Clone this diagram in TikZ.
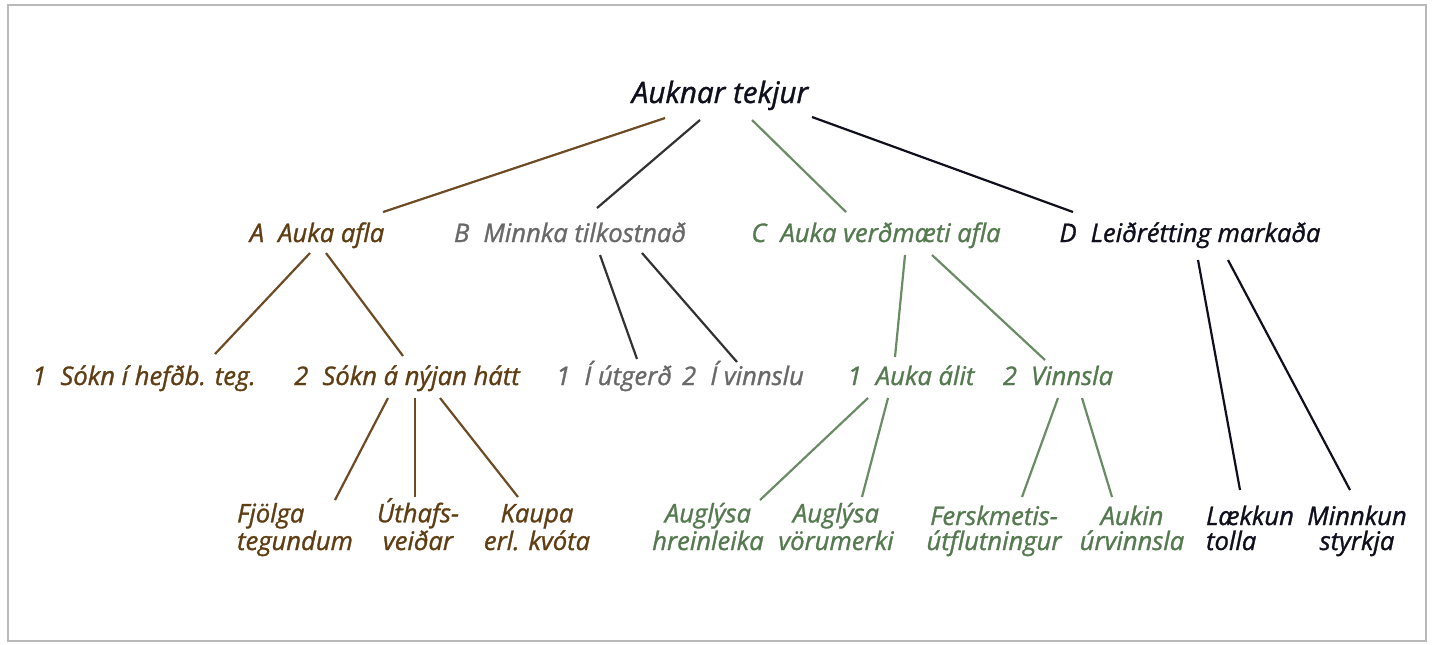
\documentclass[tikz,border=0pt]{standalone}
\usepackage{fontspec}
\setmainfont{Open Sans}[ItalicFeatures={FakeBold=1.2}]
\usepackage{xcolor}
\usepackage{tikz}

\definecolor{brn}{RGB}{96,62,20}
\definecolor{brnline}{RGB}{110,75,35}
\definecolor{gry}{RGB}{105,105,105}
\definecolor{gryline}{RGB}{50,50,50}
\definecolor{grn}{RGB}{85,122,80}
\definecolor{grnline}{RGB}{105,140,100}
\definecolor{navy}{RGB}{15,15,30}
\newcommand{\gap}{\hspace{.55em}}

\begin{document}
\begin{tikzpicture}[x=0.5pt, y=-0.5pt,
        lbl/.style={anchor=base, inner sep=0pt, font=\fontsize{12.8}{12.5}\selectfont\itshape},
        toplbl/.style={lbl, font=\fontsize{14.8}{15}\selectfont\itshape, text=navy},
        albl/.style={lbl, align=center, text=brn},
        blbl/.style={lbl, align=center, text=gry},
        clbl/.style={lbl, align=center, text=grn},
        dlbl/.style={lbl, align=center, text=navy},
        alink/.style={line width=1.1pt, brnline},
        blink/.style={line width=1.1pt, gryline},
        clink/.style={line width=1.1pt, grnline},
        dlink/.style={line width=1.1pt, navy}
    ]
    \useasboundingbox (0,0) rectangle (1433,644);
    % ramminn
    \draw[gray!55, line width=0.6pt] (8,5) rectangle (1426,641);

    % efst
    \node[toplbl] (top) at (720,103) {Auknar tekjur};

    % leidir A-D
    \node[albl] (A) at (317,242) {A\gap Auka afla};
    \node[blbl] (B) at (570,242) {B\gap Minnka tilkostnað};
    \node[clbl] (C) at (876,242) {C\gap Auka verðmæti afla};
    \node[dlbl] (D) at (1190,242) {D\gap Leiðrétting markaða};

    % undirleidir
    \node[albl] (A1) at (144,385) {1\gap Sókn í hefðb. teg.};
    \node[albl] (A2) at (407,385) {2\gap Sókn á nýjan hátt};
    \node[blbl] (B1) at (614,385) {1\gap Í útgerð};
    \node[blbl] (B2) at (743,385) {2\gap Í vinnslu};
    \node[clbl] (C1) at (911,385) {1\gap Auka álit};
    \node[clbl] (C2) at (1058,385) {2\gap Vinnsla};

    % adgerdir (base er vid nedri linu)
    \node[albl, align=left] (A21) at (295,550) {Fjölga\\tegundum};
    \node[albl] (A22) at (418,550) {Úthafs-\\veiðar};
    \node[albl] (A23) at (537,550) {Kaupa\\erl. kvóta};
    \node[clbl] (C11) at (708,550) {Auglýsa\\hreinleika};
    \node[clbl] (C12) at (836,550) {Auglýsa\\vörumerki};
    \node[clbl] (C21) at (994,550) {Ferskmetis-\\útflutningur};
    \node[clbl] (C22) at (1132,550) {Aukin\\úrvinnsla};
    \node[dlbl, align=left] (D1) at (1250,550) {Lækkun\\tolla};
    \node[dlbl] (D2) at (1357,550) {Minnkun\\styrkja};

    % tengingar fra toppi
    \draw[alink] ([shift={(-55,15)}]top.base) -- ([shift={(66,-30)}]A.base);
    \draw[blink] ([shift={(-20,17)}]top.base) -- ([shift={(27,-34)}]B.base);
    \draw[clink] ([shift={(32,17)}]top.base) -- ([shift={(-30,-30)}]C.base);
    \draw[dlink] ([shift={(92,14)}]top.base) -- ([shift={(-117,-30)}]D.base);

    % tengingar nidur
    \draw[alink] ([shift={(-7,11)}]A.base) -- ([shift={(71,-31)}]A1.base);
    \draw[alink] ([shift={(9,11)}]A.base) -- ([shift={(-4,-29)}]A2.base);
    \draw[blink] ([shift={(30,13)}]B.base) -- ([shift={(23,-26)}]B1.base);
    \draw[blink] ([shift={(72,11)}]B.base) -- ([shift={(-6,-23)}]B2.base);
    \draw[clink] ([shift={(29,13)}]C.base) -- ([shift={(-16,-28)}]C1.base);
    \draw[clink] ([shift={(56,13)}]C.base) -- ([shift={(-13,-25)}]C2.base);
    \draw[dlink] ([shift={(8,18)}]D.base) -- ([shift={(-10,-60)}]D1.base);
    \draw[dlink] ([shift={(38,18)}]D.base) -- ([shift={(-7,-60)}]D2.base);

    \draw[alink] ([shift={(-19,13)}]A2.base) -- ([shift={(40,-50)}]A21.base);
    \draw[alink] ([shift={(8,13)}]A2.base) -- ([shift={(-3,-53)}]A22.base);
    \draw[alink] ([shift={(33,13)}]A2.base) -- ([shift={(-19,-53)}]A23.base);
    \draw[clink] ([shift={(-43,13)}]C1.base) -- ([shift={(52,-50)}]C11.base);
    \draw[clink] ([shift={(-23,13)}]C1.base) -- ([shift={(26,-53)}]C12.base);
    \draw[clink] ([shift={(0,13)}]C2.base) -- ([shift={(28,-53)}]C21.base);
    \draw[clink] ([shift={(24,13)}]C2.base) -- ([shift={(-20,-53)}]C22.base);
\end{tikzpicture}
\end{document}
